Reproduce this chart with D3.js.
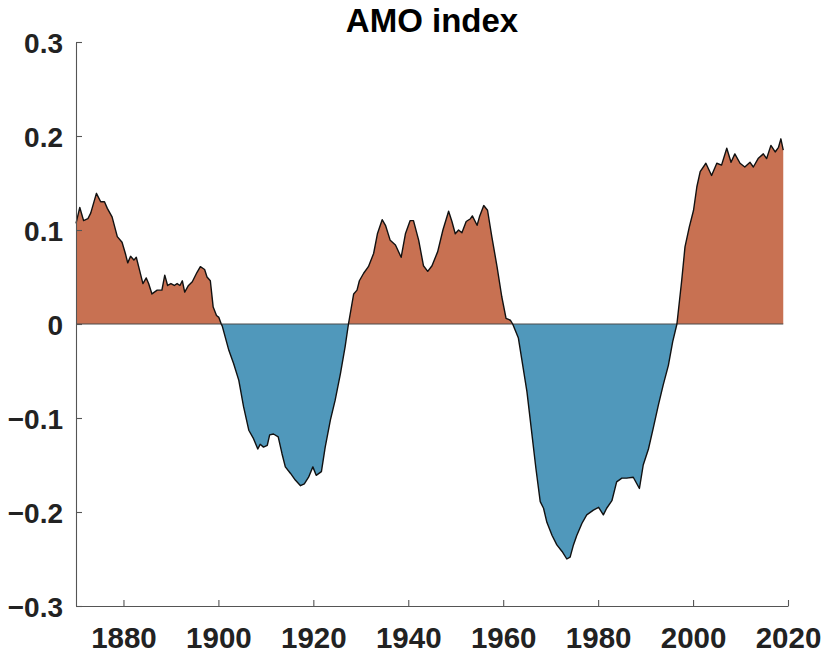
<!DOCTYPE html>
<html>
<head>
<meta charset="utf-8">
<script src="https://cdn.jsdelivr.net/npm/d3@7"></script>
<style>
  body { margin: 0; background: #fff; }
  svg { display: block; font-family: "Liberation Sans", Arial, sans-serif; }
</style>
</head>
<body>
<svg id="chart" width="825" height="655"></svg>
<script>
// AMO index (decimal year, value)
const amoYears = [
  1870.0, 1870.8, 1871.6, 1872.5, 1873.1, 1874.3, 1875.2, 1876.0, 1876.6, 1877.6,
  1878.7, 1879.7, 1880.4, 1880.9, 1881.5, 1882.2, 1882.7, 1883.4, 1884.1, 1884.8,
  1885.3, 1886.0, 1887.1, 1888.1, 1888.7, 1889.3, 1890.0, 1890.7, 1891.3, 1891.9,
  1892.4, 1892.9, 1893.7, 1894.5, 1895.5, 1896.2, 1897.1, 1897.6, 1898.3, 1898.9,
  1899.6, 1900.1, 1900.6,
  1900.8, 1902.2, 1903.2, 1904.3, 1905.3, 1906.4, 1907.4, 1908.3, 1908.8, 1909.5,
  1910.3, 1910.8, 1911.6, 1912.6, 1913.4, 1914.1, 1915.2, 1916.2, 1917.3, 1918.1,
  1919.0, 1919.9, 1920.6, 1921.7, 1922.5, 1923.6, 1924.6, 1925.7, 1926.7, 1927.4,
  1928.5, 1929.2, 1929.7, 1930.6, 1931.6, 1932.7, 1933.5, 1934.5, 1935.2, 1936.2,
  1937.3, 1938.5, 1939.4, 1940.4, 1941.1, 1942.2, 1943.2, 1944.1, 1945.0, 1946.2,
  1947.3, 1948.5, 1949.2, 1949.9, 1950.6, 1951.3, 1952.2, 1953.1, 1953.5, 1954.5,
  1955.0, 1955.9, 1956.7, 1957.6, 1958.7, 1959.7, 1960.6, 1961.5, 1962.0,
  1963.2, 1963.9, 1965.0, 1966.0, 1966.9, 1967.8, 1968.5, 1969.2, 1970.3, 1971.3,
  1972.4, 1973.4, 1974.1, 1974.8, 1975.5, 1976.6, 1977.6, 1979.0, 1980.1, 1981.1,
  1981.8, 1982.9, 1983.9, 1985.0, 1986.0, 1987.4, 1988.7, 1989.5, 1990.6, 1991.6,
  1992.7, 1993.7, 1994.8, 1995.7, 1996.6,
  1997.6, 1998.3, 1999.2, 2000.1, 2000.8, 2001.5, 2002.7, 2003.9, 2005.0, 2006.0,
  2007.1, 2008.0, 2008.8, 2009.9, 2010.9, 2012.0, 2012.7, 2013.7, 2014.8, 2015.5,
  2016.4, 2017.3, 2018.0, 2018.5, 2019.0
];
const amoValues = [
  0.107, 0.124, 0.110, 0.112, 0.118, 0.139, 0.130, 0.130, 0.123, 0.114,
  0.093, 0.087, 0.075, 0.065, 0.072, 0.068, 0.071, 0.057, 0.043, 0.049,
  0.043, 0.032, 0.036, 0.036, 0.052, 0.041, 0.043, 0.041, 0.043, 0.041,
  0.046, 0.034, 0.041, 0.045, 0.055, 0.061, 0.058, 0.050, 0.046, 0.018,
  0.009, 0.007, 0.000,
  -0.002, -0.028, -0.042, -0.060, -0.088, -0.113, -0.122, -0.133, -0.128, -0.131,
  -0.129, -0.118, -0.117, -0.120, -0.138, -0.152, -0.159, -0.166, -0.172, -0.170,
  -0.163, -0.152, -0.161, -0.157, -0.131, -0.102, -0.081, -0.053, -0.024, 0.000,
  0.032, 0.036, 0.046, 0.054, 0.061, 0.075, 0.096, 0.111, 0.105, 0.089,
  0.084, 0.071, 0.096, 0.110, 0.110, 0.089, 0.062, 0.056, 0.062, 0.077,
  0.100, 0.120, 0.109, 0.096, 0.100, 0.097, 0.109, 0.112, 0.115, 0.105,
  0.114, 0.126, 0.121, 0.093, 0.061, 0.029, 0.006, 0.004, 0.000,
  -0.015, -0.037, -0.072, -0.115, -0.154, -0.189, -0.196, -0.211, -0.225, -0.235,
  -0.242, -0.250, -0.248, -0.235, -0.225, -0.212, -0.203, -0.198, -0.195, -0.203,
  -0.196, -0.188, -0.168, -0.164, -0.164, -0.163, -0.175, -0.150, -0.133, -0.111,
  -0.086, -0.065, -0.044, -0.019, 0.000,
  0.046, 0.082, 0.103, 0.121, 0.146, 0.162, 0.171, 0.158, 0.171, 0.169,
  0.187, 0.172, 0.181, 0.171, 0.167, 0.172, 0.167, 0.176, 0.181, 0.176,
  0.190, 0.183, 0.188, 0.197, 0.185
];

const xTicks = [1880, 1900, 1920, 1940, 1960, 1980, 2000, 2020];
const yTicks = [-0.3, -0.2, -0.1, 0, 0.1, 0.2, 0.3];
const titleText = "AMO index";

const warmColor = "#c87152";
const coolColor = "#5098bb";

const margin = { top: 42, right: 37, bottom: 49, left: 76 };
const width = 825, height = 655;

const svg = d3.select("#chart");

const x = d3.scaleLinear()
  .domain([1870, 2020])
  .range([margin.left, width - margin.right]);

const y = d3.scaleLinear()
  .domain([-0.3, 0.3])
  .range([height - margin.bottom, margin.top]);

const data = amoYears.map((yr, i) => ({ year: yr, value: amoValues[i] }));

// clip areas above / below zero
const defs = svg.append("defs");
defs.append("clipPath").attr("id", "clipPos")
  .append("rect")
  .attr("x", x.range()[0]).attr("y", y(0.3))
  .attr("width", x.range()[1] - x.range()[0]).attr("height", y(0) - y(0.3));
defs.append("clipPath").attr("id", "clipNeg")
  .append("rect")
  .attr("x", x.range()[0]).attr("y", y(0))
  .attr("width", x.range()[1] - x.range()[0]).attr("height", y(-0.3) - y(0));

const area = d3.area()
  .x(d => x(d.year))
  .y0(y(0))
  .y1(d => y(d.value));

svg.append("path")
  .datum(data)
  .attr("clip-path", "url(#clipPos)")
  .attr("fill", warmColor)
  .attr("d", area);

svg.append("path")
  .datum(data)
  .attr("clip-path", "url(#clipNeg)")
  .attr("fill", coolColor)
  .attr("d", area);

// zero baseline
svg.append("line")
  .attr("x1", x(amoYears[0]))
  .attr("x2", x(amoYears[amoYears.length - 1]))
  .attr("y1", y(0)).attr("y2", y(0))
  .attr("stroke", "#4a4a4a")
  .attr("stroke-width", 1);

const line = d3.line()
  .x(d => x(d.year))
  .y(d => y(d.value));

svg.append("path")
  .datum(data)
  .attr("fill", "none")
  .attr("stroke", "#111")
  .attr("stroke-width", 1.4)
  .attr("stroke-linejoin", "round")
  .attr("d", line);

// axes, MATLAB style: ticks pointing inward
const xAxis = svg.append("g")
  .attr("transform", `translate(0,${y(-0.3)})`)
  .call(d3.axisTop(x).tickValues(xTicks).tickFormat(d3.format("d")).tickSizeInner(6).tickSizeOuter(0));
xAxis.selectAll("text")
  .attr("y", 42)
  .attr("dy", 0)
  .attr("font-size", 29.5)
  .attr("font-weight", "bold")
  .attr("fill", "#222");

const yAxis = svg.append("g")
  .attr("transform", `translate(${x(1870)},0)`)
  .call(d3.axisRight(y).tickValues(yTicks).tickFormat(d => d === 0 ? "0" : d3.format(".1f")(d)).tickSizeInner(6).tickSizeOuter(0));
yAxis.selectAll("text")
  .attr("x", -13)
  .attr("dy", "0.36em")
  .attr("text-anchor", "end")
  .attr("font-size", 28)
  .attr("font-weight", "bold")
  .attr("fill", "#222");

svg.selectAll(".domain, .tick line")
  .attr("stroke", "#555")
  .attr("stroke-width", 1.1);

svg.append("text")
  .attr("x", (x.range()[0] + x.range()[1]) / 2)
  .attr("y", 32)
  .attr("text-anchor", "middle")
  .attr("font-size", 33)
  .attr("font-weight", "bold")
  .attr("fill", "#000")
  .text(titleText);
</script>
</body>
</html>
